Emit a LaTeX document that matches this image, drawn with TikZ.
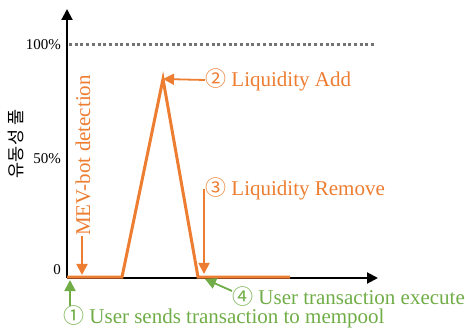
\documentclass[tikz,border=0pt]{standalone}
\usepackage{fontspec}
\setmainfont{Liberation Serif}
\newfontfamily\cjk{Noto Sans CJK KR}
\usetikzlibrary{arrows.meta}

\definecolor{mevorange}{HTML}{ED7D31}
\definecolor{usergreen}{HTML}{70AD47}

\tikzset{
  axis/.style={line width=2pt,-{Triangle[length=11pt,width=11pt]}},
  pool/.style={line width=3pt,mevorange},
  callout/.style={line width=1.8pt,-{Triangle[length=11pt,width=11pt]}},
  note/.style={inner sep=0pt,anchor=west,font=\fontsize{21}{24}\selectfont},
  ticklabel/.style={inner sep=0pt,anchor=east,font=\fontsize{15}{18}\selectfont},
}

\begin{document}
\begin{tikzpicture}[x=1pt,y=-1pt]
  \useasboundingbox (0,0) rectangle (465,328);

  % axe
  \coordinate (O) at (67,278);
  \coordinate (ytop) at (67,9);
  \coordinate (xend) at (378,278);
  \draw[axis] (O) -- (ytop);
  \draw[axis] (O) -- (xend);

  % 100% line
  \draw[black!55,line width=3pt,dash pattern=on 3pt off 2.7pt] (69,45) -- (376,45);

  % tick labels
  \foreach \val/\y in {100\%/45, 50\%/159, 0/270}
    \node[ticklabel] (tick-\y) at (61,\y) {\val};
  \node[rotate=90,inner sep=0pt,font=\cjk\fontsize{17.5}{19}\selectfont] (ylab) at (16,144) {유동성 풀};

  % pool curve
  \coordinate (P0) at (67,277);
  \coordinate (P1) at (122,277);
  \coordinate (P2) at (163,79);
  \coordinate (P3) at (198,277);
  \coordinate (P4) at (290,277);
  \draw[pool] (P0) -- (P1) -- (P2) -- (P3) -- (P4);

  % orange notes
  \coordinate (mevtip) at (82,275);
  \coordinate (remtip) at (204,274);
  \node[note,rotate=90,text=mevorange] (mev) at (83,236) {MEV-bot detection};
  \node[note,text=mevorange] (add) at (205,80) {{\cjk ②} Liquidity Add};
  \node[note,text=mevorange] (rem) at (205,189) {{\cjk ③} Liquidity Remove};
  \draw[callout,mevorange] (mev.west -| mevtip) -- (mevtip);
  \draw[callout,mevorange] (add.west) -- (P2);
  \draw[callout,mevorange] ([xshift=-1pt]rem.west) -- (remtip);

  % green notes
  \coordinate (sndtip) at (70,280);
  \coordinate (exetip) at (205,279);
  \node[note,text=usergreen] (snd) at (63,317) {{\cjk ①} User sends transaction to mempool};
  \node[note,text=usergreen] (exe) at (232,297) {{\cjk ④} User transaction execute};
  \draw[callout,usergreen] (snd.north west -| sndtip) -- (sndtip);
  \draw[callout,usergreen] ([yshift=6pt]exe.west) -- (exetip);
\end{tikzpicture}
\end{document}
